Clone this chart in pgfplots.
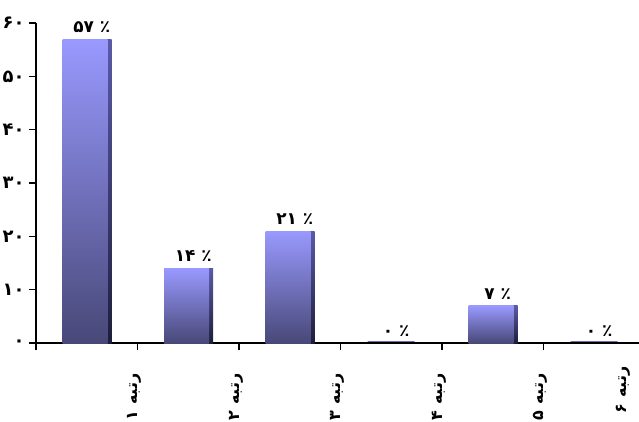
\documentclass[border=0pt]{standalone}
\usepackage{fontspec}
\usepackage{pgfplots}
\pgfplotsset{compat=1.18}
\TeXXeTstate=1
\newfontfamily\fa[Script=Arabic]{DejaVu Sans}

\definecolor{barTop}{HTML}{9999FF}
\definecolor{barBot}{HTML}{484878}
\definecolor{sideTop}{HTML}{5A5AA8}
\definecolor{sideBot}{HTML}{1E1E3A}
\definecolor{zeroBar}{HTML}{6C6CB4}

% category label: "rank n", set right to left
\newcommand{\rank}[1]{\fa\bfseries\beginR رتبه #1\endR}

\pgfplotsset{
  side face/.style={ybar, bar width=45bp, bar shift=2.5bp, draw=none,
    top color=sideTop, bottom color=sideBot},
  front face/.style={ybar, bar width=45bp, bar shift=-1.5bp, draw=none,
    top color=barTop, bottom color=barBot},
}

\begin{document}
\begin{tikzpicture}
\path[use as bounding box] (-36bp,-79bp) rectangle (603bp,343bp);
\begin{axis}[
  at={(0,0)}, anchor=south west,
  scale only axis, width=603bp, height=320bp,
  xmin=0.5, xmax=6.441, ymin=0, ymax=60,
  axis x line=bottom, axis y line=left,
  axis line style={-, line width=1.6pt, black},
  tick align=outside, major tick length=7bp,
  tick style={line width=1.2pt, black},
  xtick={0.5,1.5,2.5,3.5,4.5,5.5},
  xticklabels={,\rank{۱},\rank{۲},\rank{۳},\rank{۴},\rank{۵}},
  extra x ticks={6.32},
  extra x tick labels={\rank{۶}},
  extra x tick style={major tick length=0pt},
  xticklabel style={xshift=-3bp, yshift=-20bp, rotate=90, anchor=east,
    font=\fontsize{16}{18}\selectfont},
  ytick={0,10,...,60},
  yticklabels={۰,۱۰,۲۰,۳۰,۴۰,۵۰,۶۰},
  yticklabel style={font=\fa\bfseries\fontsize{18}{20}\selectfont, xshift=-1bp},
  clip=false,
]
% each bar is shaded on its own: side face first, front face over it
\addplot[side face]  coordinates {(1,57)};
\addplot[front face] coordinates {(1,57)};
\addplot[side face]  coordinates {(2,14)};
\addplot[front face] coordinates {(2,14)};
\addplot[side face]  coordinates {(3,21)};
\addplot[front face] coordinates {(3,21)};
\addplot[side face]  coordinates {(5,7)};
\addplot[front face] coordinates {(5,7)};
% empty categories
\addplot[ybar, bar width=47bp, bar shift=0bp, draw=zeroBar,
  line width=1.5pt, fill=none, yshift=1.5bp]
  coordinates {(4,0) (6,0)};
% value labels
\addplot[draw=none, mark=none, point meta=explicit symbolic,
  nodes near coords={\pgfplotspointmeta\ ٪},
  nodes near coords style={font=\fa\bfseries\fontsize{17}{19}\selectfont,
    anchor=south, xshift=5bp, yshift=3bp, text=black}]
  coordinates {(1,57)[۵۷] (2,14)[۱۴] (3,21)[۲۱] (4,0)[۰] (5,7)[۷] (6,0)[۰]};
\end{axis}
\end{tikzpicture}
\end{document}
